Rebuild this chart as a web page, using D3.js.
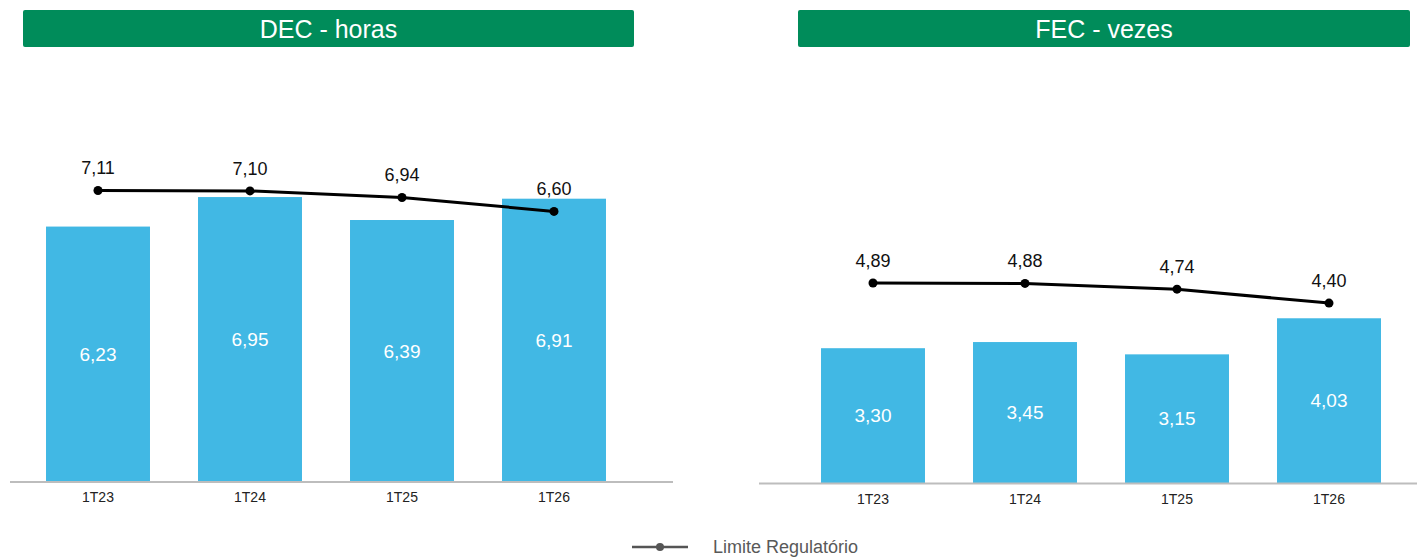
<!DOCTYPE html>
<html>
<head>
<meta charset="utf-8">
<script src="https://cdn.jsdelivr.net/npm/d3@7"></script>
<style>
  html, body { margin: 0; padding: 0; background: #ffffff; }
  svg { display: block; font-family: "Liberation Sans", Arial, sans-serif; }
</style>
</head>
<body>
<svg id="chart" width="1417" height="558"></svg>
<script>
// Quarters shown on both panels
const categories = ["1T23", "1T24", "1T25", "1T26"];

// DEC (hours): realised values and regulatory limit
const decValues = [6.23, 6.95, 6.39, 6.91];
const decLimit = [7.11, 7.10, 6.94, 6.60];

// FEC (times): realised values and regulatory limit
const fecValues = [3.30, 3.45, 3.15, 4.03];
const fecLimit = [4.89, 4.88, 4.74, 4.40];

const panelTitles = ["DEC - horas", "FEC - vezes"];
const legendLabel = "Limite Regulatório";

const fmt = v => v.toFixed(2).replace(".", ",");

const svg = d3.select("#chart");

const GREEN = "#008c5a";
const BLUE = "#41b8e4";

const panels = [
  { title: panelTitles[0], values: decValues, limit: decLimit,
    x0: 22, x1: 630, headX0: 23, headX1: 634, base: 482, axisX0: 10, axisX1: 673 },
  { title: panelTitles[1], values: fecValues, limit: fecLimit,
    x0: 797, x1: 1405, headX0: 798, headX1: 1410, base: 483.5, axisX0: 759, axisX1: 1417 }
];

panels.forEach(p => {
  const g = svg.append("g");

  // Title banner
  g.append("rect")
    .attr("x", p.headX0).attr("y", 10)
    .attr("width", p.headX1 - p.headX0).attr("height", 37)
    .attr("rx", 2)
    .attr("fill", GREEN);
  g.append("text")
    .attr("x", (p.headX0 + p.headX1) / 2).attr("y", 29)
    .attr("text-anchor", "middle").attr("dominant-baseline", "central")
    .attr("fill", "#ffffff").attr("font-size", 25)
    .text(p.title);

  const x = d3.scaleBand().domain(categories).range([p.x0, p.x1])
    .paddingInner(0.316).paddingOuter(0.158);
  const y = d3.scaleLinear().domain([0, 10]).range([p.base, p.base - 410]);

  // Bars
  g.selectAll("rect.bar").data(p.values).join("rect")
    .attr("class", "bar")
    .attr("x", (d, i) => x(categories[i]))
    .attr("width", x.bandwidth())
    .attr("y", d => y(d))
    .attr("height", d => y(0) - y(d))
    .attr("fill", BLUE);

  // Values inside bars
  g.selectAll("text.barlbl").data(p.values).join("text")
    .attr("class", "barlbl")
    .attr("x", (d, i) => x(categories[i]) + x.bandwidth() / 2)
    .attr("y", d => (y(d) + y(0)) / 2)
    .attr("text-anchor", "middle").attr("dominant-baseline", "central")
    .attr("fill", "#ffffff").attr("font-size", 19)
    .text(fmt);

  // Category axis
  const axis = g.append("g").attr("transform", `translate(0,${p.base})`);
  axis.append("line")
    .attr("x1", p.axisX0).attr("x2", p.axisX1)
    .attr("stroke", "#bdbdbd").attr("stroke-width", 2);
  axis.selectAll("text").data(categories).join("text")
    .attr("x", d => x(d) + x.bandwidth() / 2)
    .attr("y", 15)
    .attr("text-anchor", "middle").attr("dominant-baseline", "central")
    .attr("fill", "#222222").attr("font-size", 14)
    .text(d => d);

  // Regulatory limit line
  const cx = (d, i) => x(categories[i]) + x.bandwidth() / 2;
  const line = d3.line().x(cx).y(d => y(d));
  g.append("path")
    .datum(p.limit)
    .attr("d", line)
    .attr("fill", "none").attr("stroke", "#000000").attr("stroke-width", 3);
  g.selectAll("circle.pt").data(p.limit).join("circle")
    .attr("class", "pt")
    .attr("cx", cx).attr("cy", d => y(d)).attr("r", 4.5)
    .attr("fill", "#000000");
  g.selectAll("text.linelbl").data(p.limit).join("text")
    .attr("class", "linelbl")
    .attr("x", cx).attr("y", d => y(d) - 22)
    .attr("text-anchor", "middle").attr("dominant-baseline", "central")
    .attr("fill", "#111111").attr("font-size", 18)
    .text(fmt);
});

// Legend
const lg = svg.append("g").attr("transform", "translate(0,547)");
lg.append("line").attr("x1", 632).attr("x2", 688)
  .attr("stroke", "#555555").attr("stroke-width", 2.5);
lg.append("circle").attr("cx", 660).attr("cy", 0).attr("r", 4).attr("fill", "#555555");
lg.append("text").attr("x", 713).attr("y", 0)
  .attr("dominant-baseline", "central")
  .attr("fill", "#595959").attr("font-size", 18)
  .text(legendLabel);
</script>
</body>
</html>
